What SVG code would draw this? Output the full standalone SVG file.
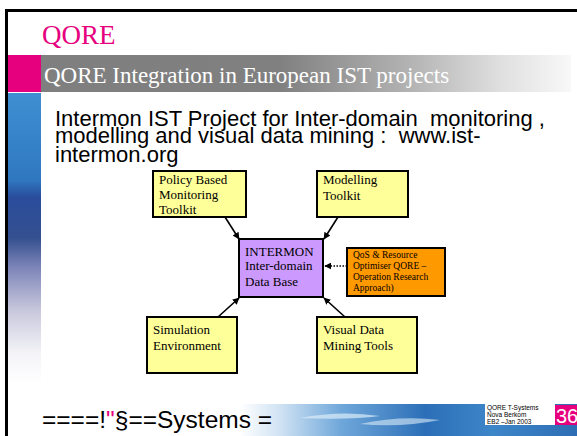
<svg xmlns="http://www.w3.org/2000/svg" width="577" height="436" viewBox="0 0 577 436">
<defs>
<linearGradient id="barGrad" x1="0" y1="0" x2="1" y2="0">
<stop offset="0" stop-color="#7f7f7f"/>
<stop offset="0.45" stop-color="#808080"/>
<stop offset="0.7" stop-color="#b4b4b4"/>
<stop offset="0.87" stop-color="#e0e0e0"/>
<stop offset="1" stop-color="#f8f8f8"/>
</linearGradient>
<linearGradient id="stripGrad" x1="0" y1="0" x2="0" y2="1">
<stop offset="0" stop-color="#3f8fd2"/>
<stop offset="0.3" stop-color="#2f78c0"/>
<stop offset="0.36" stop-color="#2a4c9c"/>
<stop offset="0.5" stop-color="#34508f"/>
<stop offset="0.6" stop-color="#7c84b8"/>
<stop offset="0.75" stop-color="#c8c8dc"/>
<stop offset="0.9" stop-color="#f4f4f8"/>
<stop offset="1" stop-color="#ffffff"/>
</linearGradient>
<linearGradient id="footGrad" x1="0" y1="0" x2="1" y2="0">
<stop offset="0" stop-color="#ffffff"/>
<stop offset="0.12" stop-color="#cfe2f3"/>
<stop offset="0.3" stop-color="#6fa7da"/>
<stop offset="0.55" stop-color="#2c6fb8"/>
<stop offset="0.75" stop-color="#3d86c8"/>
<stop offset="1" stop-color="#2e6db4"/>
</linearGradient>
<marker id="ah" viewBox="0 0 10 10" refX="9" refY="5" markerWidth="7" markerHeight="7" markerUnits="userSpaceOnUse" orient="auto">
<path d="M0,0 L10,5 L0,10 z" fill="#000"/>
</marker>
<style>
.box{stroke:#000;stroke-width:2}
.yel{fill:#ffff99}
.lbl{font-family:"Liberation Serif","Times New Roman",serif;font-size:13px;fill:#000}
.sm{font-family:"Liberation Serif","Times New Roman",serif;font-size:9.5px;fill:#000}
.con{stroke:#000;stroke-width:1.6;fill:none;marker-end:url(#ah)}
.body{font-family:"Liberation Sans",Arial,sans-serif;font-size:22px;fill:#000;white-space:pre}
</style>
</defs>
<rect width="577" height="436" fill="#fff"/>
<!-- frame -->
<rect x="5" y="9" width="572" height="3" fill="#000"/>
<rect x="5" y="9" width="3" height="427" fill="#000"/>
<!-- title -->
<text x="42" y="44" font-family="Liberation Serif, serif" font-size="27" fill="#e6007e">QORE</text>
<rect x="8" y="55" width="33" height="37" fill="#e6007e"/>
<rect x="41" y="55" width="530" height="37" fill="url(#barGrad)"/>
<text x="44" y="83" font-family="Liberation Serif, serif" font-size="23" fill="#fff">QORE Integration in European IST projects</text>
<rect x="8" y="93" width="33" height="290" fill="url(#stripGrad)"/>
<!-- body -->
<g>
<text class="body" x="55" y="126">Intermon IST Project for Inter-domain  monitoring ,</text>
<text class="body" x="55" y="143">modelling and visual data mining :  www.ist-</text>
<text class="body" x="55" y="162">intermon.org</text>
</g>
<!-- connectors -->
<g id="connectors">
<line class="con" x1="225" y1="217" x2="239" y2="239"/>
<line class="con" x1="338" y1="217" x2="324" y2="239"/>
<line class="con" x1="218" y1="317" x2="239" y2="298"/>
<line class="con" x1="345" y1="317" x2="324" y2="298"/>
<line class="con" x1="347" y1="266" x2="325" y2="266" stroke-dasharray="1.5,1.5"/>
</g>
<g id="policy">
<rect class="box yel" x="153" y="171" width="93" height="46"/>
<text class="lbl" x="159" y="184">Policy Based</text>
<text class="lbl" x="159" y="199">Monitoring</text>
<text class="lbl" x="159" y="214">Toolkit</text>
</g>
<g id="modelling">
<rect class="box yel" x="317" y="171" width="91" height="46"/>
<text class="lbl" x="323" y="184">Modelling</text>
<text class="lbl" x="323" y="200">Toolkit</text>
</g>
<g id="intermon">
<rect class="box" x="239" y="239" width="84" height="58" fill="#cc99ff"/>
<text class="lbl" x="245" y="256">INTERMON</text>
<text class="lbl" x="245" y="270">Inter-domain</text>
<text class="lbl" x="245" y="286">Data Base</text>
</g>
<g id="qos">
<rect class="box" x="347" y="248" width="98" height="48" fill="#ff9900"/>
<text class="sm" x="353" y="258">QoS &amp; Resource</text>
<text class="sm" x="353" y="269">Optimiser QORE –</text>
<text class="sm" x="353" y="280">Operation Research</text>
<text class="sm" x="353" y="291">Approach)</text>
</g>
<g id="simulation">
<rect class="box yel" x="147" y="317" width="90" height="56"/>
<text class="lbl" x="153" y="334">Simulation</text>
<text class="lbl" x="153" y="350">Environment</text>
</g>
<g id="visual">
<rect class="box yel" x="317" y="317" width="100" height="56"/>
<text class="lbl" x="323" y="334">Visual Data</text>
<text class="lbl" x="323" y="350">Mining Tools</text>
</g>
<!-- footer -->
<rect x="240" y="404" width="337" height="32" fill="url(#footGrad)"/>
<path d="M300,418 Q340,410 380,416 Q350,420 300,418 z" fill="#dcecf8" opacity="0.7"/>
<path d="M360,424 Q400,415 440,420 Q400,428 360,424 z" fill="#dcecf8" opacity="0.6"/>
<rect x="485" y="404" width="70" height="21" fill="#fff"/>
<rect x="555" y="405" width="22" height="20" fill="#e6007e"/>
<text x="556" y="423" font-family="Liberation Sans, Arial, sans-serif" font-size="20" fill="#fff">36</text>
<g font-family="Liberation Sans, Arial, sans-serif" font-size="6.5" fill="#000">
<text x="487" y="410">QORE T-Systems</text>
<text x="487" y="417">Nova Berkom</text>
<text x="487" y="424">EB2 –Jan 2003</text>
</g>
<text x="42" y="428" font-family="Liberation Sans, Arial, sans-serif" font-size="24.5" fill="#000">====!<tspan fill="#e6007e">"</tspan>§==Systems =</text>
</svg>
